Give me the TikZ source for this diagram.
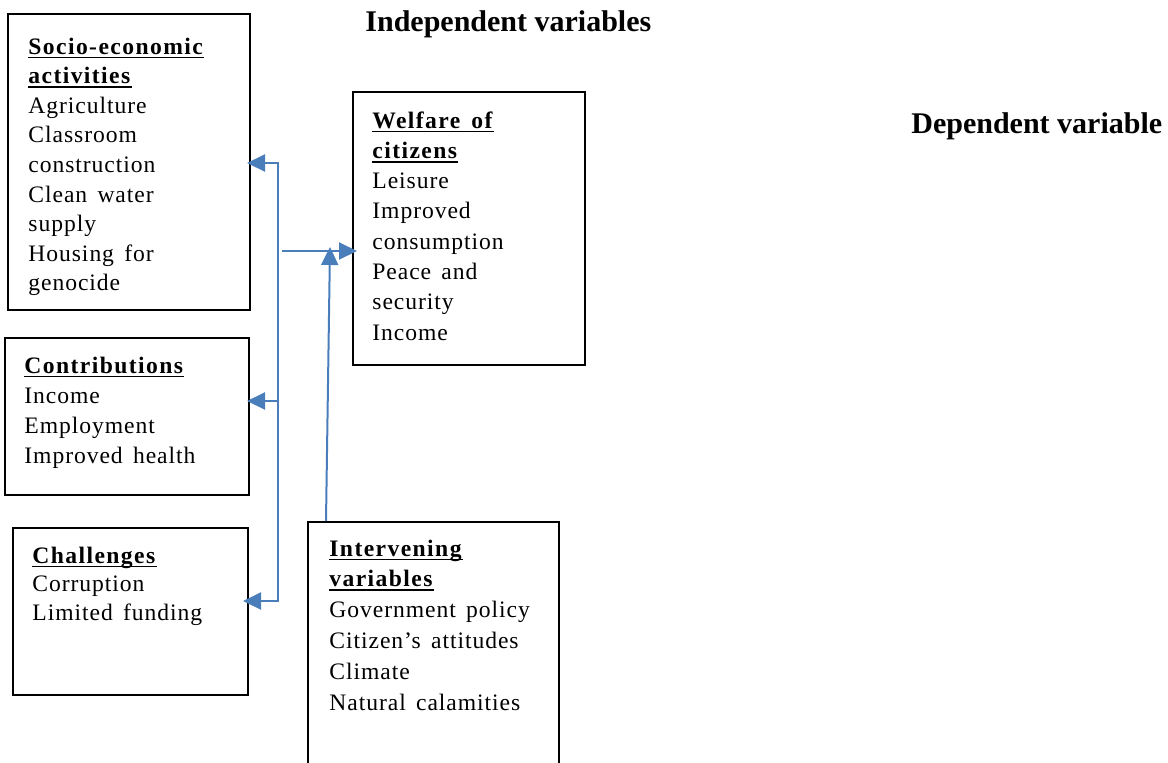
\documentclass[tikz,border=0pt]{standalone}
\usepackage{fontspec}
\setmainfont{Liberation Serif}[LetterSpace=4,WordSpace=1.5,BoldFeatures={LetterSpace=6}]
\newfontfamily\titlefont{Liberation Serif}
\usetikzlibrary{arrows.meta,calc}
\definecolor{arrowblue}{HTML}{4A7EBB}
\newcommand\headu[1]{\leavevmode\setbox0\hbox{\textbf{#1}}\rlap{\rule[-2.2pt]{\wd0}{0.9pt}}\box0}
\begin{document}
\begin{tikzpicture}[x=0.5pt,y=-0.5pt,
  box/.style={draw=black,line width=1pt,anchor=north west,inner sep=0pt},
  txt/.style={anchor=base west,inner sep=0pt},
  title/.style={anchor=base west,inner sep=0pt,font=\titlefont\fontsize{15}{18}\selectfont\bfseries},
  conn/.style={draw=arrowblue,line width=1pt},
  tipa/.tip={Triangle[length=9pt,width=8.5pt]}]
\useasboundingbox (0,0) rectangle (1168,762);
\clip (0,0) rectangle (1168,762);

% titles
\node[title] (indep) at (365,31) {Independent variables};
\node[title] (dep) at (911,133) {Dependent variable};

% boxes
\node[box,minimum width=121pt,minimum height=148pt] (soc) at (7,13) {};
\node[box,minimum width=116pt,minimum height=136.5pt] (wel) at (352,91) {};
\node[box,minimum width=122pt,minimum height=78.5pt] (con) at (4,337) {};
\node[box,minimum width=117.5pt,minimum height=83.5pt] (chal) at (12,527) {};
\node[box,minimum width=125.5pt,minimum height=134.5pt] (int) at (307,521) {};

% texts
\node[txt] (soct) at (28,54) {\parbox[t]{115pt}{\fontsize{11.8}{14.8}\selectfont\raggedright
  \headu{Socio-economic}\\
  \headu{activities}\\
  Agriculture\\
  Classroom\\
  construction\\
  Clean water\\
  supply\\
  Housing for\\
  genocide}};
\node[txt] (welt) at (372,128) {\parbox[t]{105pt}{\fontsize{11.8}{15.15}\selectfont\raggedright
  \headu{Welfare of}\\
  \headu{citizens}\\
  Leisure\\
  Improved\\
  consumption\\
  Peace and\\
  security\\
  Income}};
\node[txt] (cont) at (24,373) {\parbox[t]{112pt}{\fontsize{11.8}{15.15}\selectfont\raggedright
  \headu{Contributions}\\
  Income\\
  Employment\\
  Improved health}};
\node[txt] (chalt) at (32,563) {\parbox[t]{105pt}{\fontsize{11.8}{14.3}\selectfont\raggedright
  \headu{Challenges}\\
  Corruption\\
  Limited funding}};
\node[txt] (intt) at (329,556) {\parbox[t]{115pt}{\fontsize{11.8}{15.4}\selectfont\raggedright
  \headu{Intervening}\\
  \headu{variables}\\
  Government policy\\
  Citizen’s attitudes\\
  Climate\\
  Natural calamities}};

% connectors
\coordinate (t1) at (278,163);
\coordinate (t2) at (278,401);
\coordinate (t3) at (278,601);
\draw[conn,{tipa}-{tipa},shorten <=-2pt,shorten >=-3pt]
  (t1 -| soc.east) -- (t1) -- (t3) -- (t3 -| chal.east);
\draw[conn,-{tipa},shorten >=-1.5pt] (t2) -- (t2 -| con.east);
\coordinate (h0) at (282,251);
\draw[conn,-{tipa},shorten >=-2.5pt] (h0) -- (h0 -| wel.west);
\coordinate (v1) at (330,247);
\draw[conn,-{tipa}] ($(int.north west)+(19,0)$) -- (v1);
\end{tikzpicture}
\end{document}
